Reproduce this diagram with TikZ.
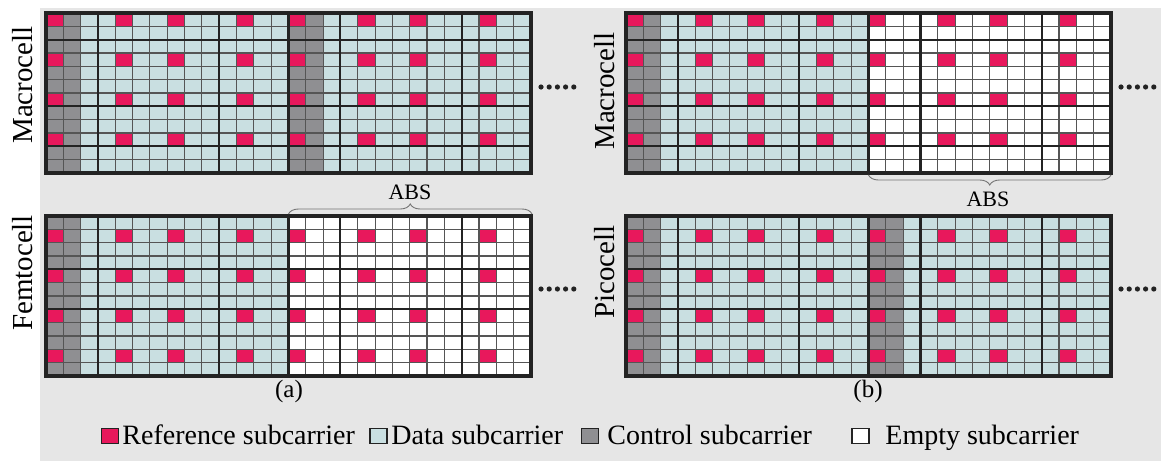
\documentclass[tikz,border=0pt]{standalone}
\usepackage{fontspec}
\setmainfont{Liberation Serif}
\usetikzlibrary{decorations.pathreplacing}

\definecolor{refc}{RGB}{232,24,92}
\definecolor{datac}{RGB}{201,223,225}
\definecolor{ctrlc}{RGB}{143,143,146}
\definecolor{bgc}{RGB}{230,230,230}
\definecolor{darkc}{RGB}{35,35,35}
\definecolor{linec}{RGB}{85,85,85}

\def\cw{17.32}
\def\ch{13.33}

\tikzset{
  cellline/.style={draw=linec, line width=0.55pt},
  slotline/.style={draw=darkc, line width=1.05pt},
  frameline/.style={draw=darkc, line width=1.6pt},
  celllabel/.style={rotate=90, inner sep=0pt, font=\fontsize{14.5}{16}\selectfont},
  keybox/.style={draw=darkc, line width=0.6pt, minimum width=8.5pt, minimum height=7.5pt, inner sep=0pt},
  keytext/.style={anchor=base west, inner sep=0pt, font=\fontsize{14}{16}\selectfont},
  sublabel/.style={inner sep=0pt, font=\fontsize{12.5}{14}\selectfont},
  abslabel/.style={inner sep=0pt, font=\fontsize{11}{13}\selectfont},
  absbrace/.style={draw=black!55, line width=0.45pt, decorate, decoration={brace, amplitude=5pt}},
}

% one subframe: x0, y0, kind (1 = normal, 0 = empty), reference row offset, thick rows
\newcommand{\subframe}[5]{
  \ifnum#3=1
    \fill[ctrlc] (#1,#2) rectangle ++(2*\cw,12*\ch);
    \fill[datac] (#1+2*\cw,#2) rectangle ++(12*\cw,12*\ch);
  \else
    \fill[white] (#1,#2) rectangle ++(14*\cw,12*\ch);
  \fi
  \foreach \c in {0,4,7,11}
    \foreach \r in {0,3,6,9}
      \fill[refc] (#1+\c*\cw,#2+\r*\ch+#4*\ch) rectangle ++(\cw,\ch);
  \foreach \i in {1,...,13}
    \draw[cellline] (#1+\i*\cw,#2) -- ++(0,12*\ch);
  \foreach \j in {1,...,11}
    \draw[cellline] (#1,#2+\j*\ch) -- ++(14*\cw,0);
  \foreach \i in {3,10}
    \draw[slotline] (#1+\i*\cw,#2) -- ++(0,12*\ch);
  \foreach \j in {#5}
    \draw[slotline] (#1,#2+\j*\ch) -- ++(14*\cw,0);
}

\newcommand{\gridframe}[2]{
  \draw[frameline] (#1,#2) rectangle ++(28*\cw,12*\ch);
  \draw[frameline] (#1+14*\cw,#2) -- ++(0,12*\ch);
}

\newcommand{\moredots}[2]{
  \foreach \k in {0,...,4}
    \fill[darkc] (#1+\k*8.2,#2) circle (1.3pt);
}

\begin{document}
\begin{tikzpicture}[x=0.5pt, y=-0.5pt]
\useasboundingbox (0,0) rectangle (1161,461);
\fill[white] (0,0) rectangle (1161,461);
\fill[bgc] (40,8) rectangle (1161,461);

\subframe{46}{13}{1}{0}{2,7,10}
\subframe{46+14*\cw}{13}{1}{0}{2,7,10}
\gridframe{46}{13}

\subframe{46}{216}{1}{1}{4,7}
\subframe{46+14*\cw}{216}{0}{1}{4,7}
\gridframe{46}{216}

\subframe{626}{13}{1}{0}{2,7,10}
\subframe{626+14*\cw}{13}{0}{0}{2,7,10}
\gridframe{626}{13}

\subframe{626}{216}{1}{1}{4,7}
\subframe{626+14*\cw}{216}{1}{1}{4,7}
\gridframe{626}{216}

\moredots{541}{87}
\moredots{541}{289}
\moredots{1121}{87}
\moredots{1121}{289}

\node[celllabel] (macroa) at (23,85) {Macrocell};
\node[celllabel] (femto) at (23,273) {Femtocell};
\node[celllabel] (macrob) at (605,91) {Macrocell};
\node[celllabel] (pico) at (605,272) {Picocell};

\coordinate (absaL) at (46+14*\cw,214);
\coordinate (absaR) at (532,214);
\draw[absbrace] (absaL) -- (absaR);
\node[abslabel] (absa) at (410,192) {ABS};

\coordinate (absbL) at (626+14*\cw,175);
\coordinate (absbR) at (1111,175);
\draw[absbrace] (absbR) -- (absbL);
\node[abslabel] (absb) at (988,199) {ABS};

\node[sublabel] (capa) at (289,391) {(a)};
\node[sublabel] (capb) at (868,391) {(b)};

\node[keybox, fill=refc] (kref) at (110,436) {};
\node[keytext] (tref) at (122,444) {Reference subcarrier};
\node[keybox, fill=datac] (kdata) at (378.5,436) {};
\node[keytext] (tdata) at (391,444) {Data subcarrier};
\node[keybox, fill=ctrlc] (kctrl) at (590,436) {};
\node[keytext] (tctrl) at (607,444) {Control subcarrier};
\node[keybox, fill=white] (kempty) at (860.5,436) {};
\node[keytext] (tempty) at (885,444) {Empty subcarrier};
\end{tikzpicture}
\end{document}
